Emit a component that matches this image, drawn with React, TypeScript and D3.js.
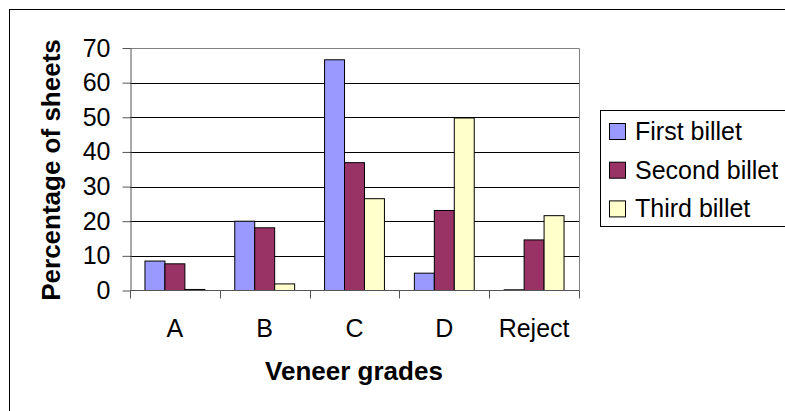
import { useEffect, useRef } from "react"
import * as d3 from "d3"

const categories = ["A", "B", "C", "D", "Reject"]
const seriesNames = ["First billet", "Second billet", "Third billet"]
const firstBillet = [8.5, 20.0, 66.6, 5.0, 0.2]
const secondBillet = [7.7, 18.1, 36.9, 23.1, 14.6]
const thirdBillet = [0.3, 1.9, 26.5, 49.8, 21.6]
const yTicks = [0, 10, 20, 30, 40, 50, 60, 70]
const colors = ["#9999FF", "#993366", "#FFFFCC"]

const font = "'Liberation Sans', Arial, sans-serif"

export default function App() {
  const svgRef = useRef<SVGSVGElement>(null)

  useEffect(() => {
    const svg = d3.select(svgRef.current)
    svg.selectAll("*").remove()

    const left = 130
    const right = 579
    const top = 48
    const bottom = 290.5

    const x = d3.scaleBand<string>().domain(categories).range([left, right])
    const xs = d3
      .scaleBand<string>()
      .domain(seriesNames)
      .range([0, x.bandwidth()])
      .paddingInner(0)
      .paddingOuter(0.75)
    const y = d3.scaleLinear().domain([0, 70]).range([bottom, top])

    // outer chart border
    svg
      .append("rect")
      .attr("x", 9.5)
      .attr("y", 9.5)
      .attr("width", 800)
      .attr("height", 420)
      .attr("fill", "white")
      .attr("stroke", "black")

    // gridlines
    svg
      .append("g")
      .selectAll("line")
      .data(yTicks.filter((t) => t > 0 && t < 70))
      .join("line")
      .attr("x1", left)
      .attr("x2", right)
      .attr("y1", (d) => Math.round(y(d)) + 0.5)
      .attr("y2", (d) => Math.round(y(d)) + 0.5)
      .attr("stroke", "black")

    // plot area border (top / right)
    svg
      .append("path")
      .attr("d", `M${left},${Math.round(top) + 0.5}H${right + 0.5}V${bottom}`)
      .attr("fill", "none")
      .attr("stroke", "#808080")

    // bars
    const series = [firstBillet, secondBillet, thirdBillet]
    series.forEach((vals, si) => {
      svg
        .append("g")
        .selectAll("rect")
        .data(vals)
        .join("rect")
        .attr("x", (_, i) => x(categories[i])! + xs(seriesNames[si])!)
        .attr("y", (d) => y(d))
        .attr("width", xs.bandwidth())
        .attr("height", (d) => y(0) - y(d))
        .attr("fill", colors[si])
        .attr("stroke", "black")
        .attr("stroke-width", 1)
    })

    // y axis
    const yAxis = svg
      .append("g")
      .attr("transform", `translate(${left + 0.5},0)`)
      .call(d3.axisLeft(y).tickValues(yTicks).tickSize(8).tickPadding(12).tickSizeOuter(0))
    yAxis.select(".domain").attr("stroke", "#555")
    yAxis.selectAll(".tick line").attr("stroke", "#555")
    yAxis
      .selectAll("text")
      .attr("font-family", font)
      .attr("font-size", 25)
      .attr("fill", "black")

    // x axis
    const xAxis = svg.append("g").attr("transform", `translate(0,${bottom})`)
    xAxis
      .append("line")
      .attr("x1", left)
      .attr("x2", right + 0.5)
      .attr("stroke", "#555")
    xAxis
      .selectAll("line.tk")
      .data([...categories.map((c) => x(c)!), right])
      .join("line")
      .attr("class", "tk")
      .attr("x1", (d) => Math.round(d) + 0.5)
      .attr("x2", (d) => Math.round(d) + 0.5)
      .attr("y1", 0)
      .attr("y2", 8)
      .attr("stroke", "#555")
    xAxis
      .selectAll("text")
      .data(categories)
      .join("text")
      .attr("x", (d) => x(d)! + x.bandwidth() / 2)
      .attr("y", 46)
      .attr("text-anchor", "middle")
      .attr("font-family", font)
      .attr("font-size", 25)
      .text((d) => d)

    // axis titles
    svg
      .append("text")
      .attr("x", 354)
      .attr("y", 380)
      .attr("text-anchor", "middle")
      .attr("font-family", font)
      .attr("font-weight", "bold")
      .attr("font-size", 26)
      .text("Veneer grades")

    svg
      .append("text")
      .attr("transform", "translate(60,170) rotate(-90)")
      .attr("text-anchor", "middle")
      .attr("font-family", font)
      .attr("font-weight", "bold")
      .attr("font-size", 26)
      .text("Percentage of sheets")

    // legend
    const legend = svg.append("g")
    legend
      .append("rect")
      .attr("x", 600.5)
      .attr("y", 110.5)
      .attr("width", 300)
      .attr("height", 116)
      .attr("fill", "white")
      .attr("stroke", "black")
    const rows = legend
      .selectAll("g")
      .data(seriesNames)
      .join("g")
      .attr("transform", (_, i) => `translate(0,${i * 38.7})`)
    rows
      .append("rect")
      .attr("x", 609.5)
      .attr("y", 123.5)
      .attr("width", 16)
      .attr("height", 16)
      .attr("fill", (_, i) => colors[i])
      .attr("stroke", "black")
    rows
      .append("text")
      .attr("x", 635)
      .attr("y", 140)
      .attr("font-family", font)
      .attr("font-size", 25)
      .text((d) => d)
  }, [])

  return (
    <svg
      ref={svgRef}
      width={785}
      height={411}
      style={{ position: "absolute", left: 0, top: 0, background: "white" }}
    />
  )
}
